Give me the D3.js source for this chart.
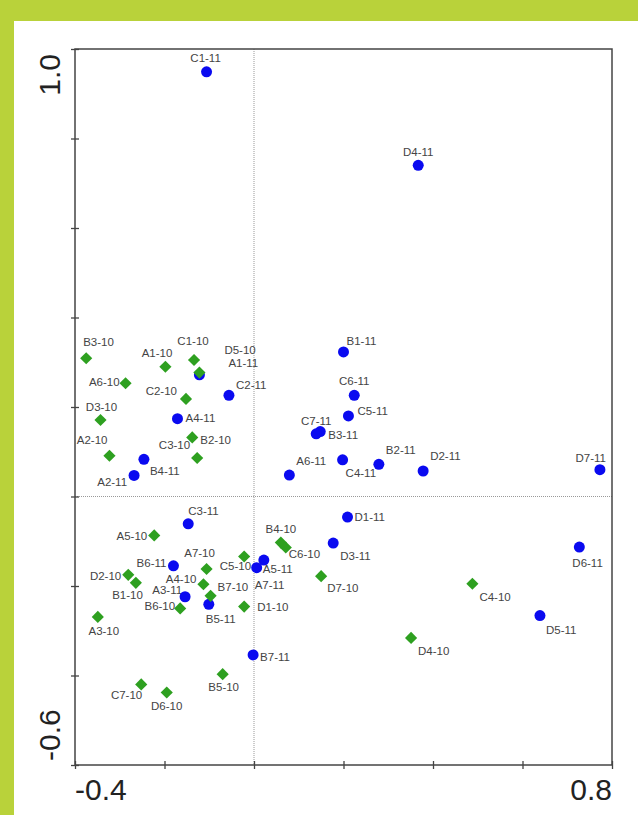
<!DOCTYPE html>
<html>
<head>
<meta charset="utf-8">
<style>
  html, body { margin: 0; padding: 0; background: #b9d23a; }
  svg { display: block; }
</style>
</head>
<body>
<script src="https://cdn.jsdelivr.net/npm/d3@7"></script>
<svg></svg>
<script>
  // sites, in the same order for both years
  const sites = ['A1', 'A2', 'A3', 'A4', 'A5', 'A6', 'A7',
                 'B1', 'B2', 'B3', 'B4', 'B5', 'B6', 'B7',
                 'C1', 'C2', 'C3', 'C4', 'C5', 'C6', 'C7',
                 'D1', 'D2', 'D3', 'D4', 'D5', 'D6', 'D7'];

  // 2010 scores (green diamonds)
  const x10 = [-0.198, -0.323, -0.349, -0.113, -0.223, -0.287, -0.106,
               -0.264, -0.138, -0.375,  0.060, -0.070, -0.165, -0.097,
               -0.134, -0.152, -0.127,  0.488, -0.022,  0.071, -0.252,
               -0.022, -0.281, -0.343,  0.351, -0.122, -0.195,  0.150];
  const y10 = [ 0.290,  0.091, -0.269, -0.196, -0.087,  0.253, -0.162,
               -0.193,  0.132,  0.309, -0.103, -0.397, -0.250, -0.222,
                0.305,  0.218,  0.086, -0.195, -0.134, -0.114, -0.420,
               -0.246, -0.175,  0.171, -0.316,  0.277, -0.438, -0.178];

  // 2011 scores (blue circles)
  const x11 = [-0.122, -0.268, -0.154, -0.171,  0.022,  0.079,  0.006,
                0.200,  0.279,  0.148, -0.246, -0.101, -0.180, -0.002,
               -0.106, -0.056, -0.147,  0.198,  0.211,  0.224,  0.139,
                0.209,  0.378,  0.177,  0.367,  0.639,  0.727,  0.773];
  const y11 = [ 0.272,  0.047, -0.224,  0.174, -0.142,  0.048, -0.159,
                0.323,  0.072,  0.145,  0.083, -0.241, -0.155, -0.354,
                0.949,  0.226, -0.061,  0.082,  0.180,  0.226,  0.140,
               -0.046,  0.057, -0.104,  0.740, -0.266, -0.113,  0.060];

  const xTicks = [-0.4, -0.2, 0, 0.2, 0.4, 0.6, 0.8];
  const yTicks = [-0.6, -0.4, -0.2, 0, 0.2, 0.4, 0.6, 0.8, 1.0];
  const xEnds = ['-0.4', '0.8'];
  const yEnds = ['-0.6', '1.0'];

  // hand placed labels: anchor, dx, dy from the mark centre
  const labelPos = {
    'C1-11': ['middle', -1, -10], 'D4-11': ['middle', 0, -9], 'B1-11': ['start', 3, -7],
    'C6-11': ['middle', 0, -10], 'C5-11': ['start', 9, -1], 'C7-11': ['middle', 0, -9],
    'B3-11': ['start', 8, 7], 'A6-11': ['start', 7, -10], 'C4-11': ['start', 3, 17],
    'B2-11': ['start', 7, -10], 'D2-11': ['start', 7, -11], 'D7-11': ['end', 6, -8],
    'D6-11': ['start', -7, 20], 'D5-11': ['start', 6, 18], 'C2-11': ['start', 7, -6],
    'A1-11': ['start', 29, -8], 'A4-11': ['start', 8, 3], 'B4-11': ['start', 6, 16],
    'A2-11': ['end', -7, 11], 'C3-11': ['start', 0, -9], 'B6-11': ['end', -7, 1],
    'A5-11': ['start', -1, 13], 'A7-11': ['start', -2, 21], 'A3-11': ['end', -3, -3],
    'B5-11': ['start', -3, 19], 'B7-11': ['start', 7, 6], 'D1-11': ['start', 7, 4],
    'D3-11': ['start', 7, 17],
    'B3-10': ['start', -3, -12], 'A1-10': ['end', 7, -10], 'C1-10': ['middle', -1, -15],
    'D5-10': ['start', 25, -19], 'A6-10': ['end', -6, 3], 'C2-10': ['end', -9, -4],
    'D3-10': ['middle', 1, -9], 'B2-10': ['start', 8, 7], 'C3-10': ['end', -7, -9],
    'A2-10': ['end', -2, -12], 'A5-10': ['end', -7, 5], 'A7-10': ['middle', -7, -12],
    'C5-10': ['end', 7, 14], 'D2-10': ['end', -7, 5], 'B1-10': ['end', 7, 16],
    'A4-10': ['end', -7, -1], 'B7-10': ['start', 7, -5], 'B6-10': ['end', -5, 2],
    'D1-10': ['start', 13, 4], 'A3-10': ['middle', 6, 18], 'B5-10': ['middle', 1, 17],
    'C7-10': ['end', 1, 15], 'D6-10': ['middle', 0, 17], 'B4-10': ['middle', 0, -10],
    'C6-10': ['start', 3, 10], 'D7-10': ['start', 6, 16], 'D4-10': ['start', 7, 17],
    'C4-10': ['start', 7, 17]
  };

  const width = 638;
  const height = 815;
  const plot = { left: 75, right: 612, top: 49, bottom: 765 };

  const svg = d3.select('svg').attr('width', width).attr('height', height);

  // white sheet over the green band
  svg.append('rect')
      .attr('x', 14).attr('y', 21)
      .attr('width', width - 14).attr('height', height - 21)
      .attr('fill', '#fff');

  const x = d3.scaleLinear().domain([-0.4, 0.8]).range([plot.left, plot.right]);
  const y = d3.scaleLinear().domain([-0.6, 1.0]).range([plot.bottom, plot.top]);

  // zero lines
  svg.append('line')
      .attr('x1', plot.left).attr('x2', plot.right)
      .attr('y1', y(0)).attr('y2', y(0))
      .attr('stroke', '#999').attr('stroke-width', 1).attr('stroke-dasharray', '1,1');
  svg.append('line')
      .attr('x1', x(0)).attr('x2', x(0))
      .attr('y1', plot.top).attr('y2', plot.bottom)
      .attr('stroke', '#999').attr('stroke-width', 1).attr('stroke-dasharray', '1,1');

  // frame
  svg.append('rect')
      .attr('x', plot.left).attr('y', plot.top)
      .attr('width', plot.right - plot.left).attr('height', plot.bottom - plot.top)
      .attr('fill', 'none').attr('stroke', '#444').attr('stroke-width', 1.5);

  // ticks crossing the bottom and left axes
  const xAxis = svg.append('g')
      .attr('transform', `translate(0,${plot.bottom - 4})`)
      .call(d3.axisBottom(x).tickValues(xTicks).tickSize(8).tickFormat(''));
  const yAxis = svg.append('g')
      .attr('transform', `translate(${plot.left + 4},0)`)
      .call(d3.axisLeft(y).tickValues(yTicks).tickSize(8).tickFormat(''));
  [xAxis, yAxis].forEach(a => {
      a.select('.domain').remove();
      a.selectAll('line').attr('stroke', '#444').attr('stroke-width', 1.3);
  });

  // end labels only
  const font = '"Liberation Sans", Arial, sans-serif';
  svg.selectAll('.xend')
    .data(xEnds)
    .join('text')
      .attr('x', (d, i) => i ? plot.right : plot.left)
      .attr('y', 800)
      .attr('text-anchor', (d, i) => i ? 'end' : 'start')
      .attr('font-family', font).attr('font-size', 30).attr('fill', '#222')
      .text(d => d);
  svg.selectAll('.yend')
    .data(yEnds)
    .join('text')
      .attr('transform', (d, i) => `translate(60,${i ? 54 : 761}) rotate(-90)`)
      .attr('text-anchor', (d, i) => i ? 'end' : 'start')
      .attr('font-family', font).attr('font-size', 30).attr('fill', '#222')
      .text(d => d);

  // point records from the arrays
  const pts10 = sites.map((s, i) => ({ name: `${s}-10`, x: x10[i], y: y10[i] }));
  const pts11 = sites.map((s, i) => ({ name: `${s}-11`, x: x11[i], y: y11[i] }));
  const all = pts11.concat(pts10);

  // labels under the marks
  svg.append('g')
    .selectAll('text')
    .data(all)
    .join('text')
      .attr('x', d => x(d.x) + labelPos[d.name][1])
      .attr('y', d => y(d.y) + labelPos[d.name][2])
      .attr('text-anchor', d => labelPos[d.name][0])
      .attr('font-family', font).attr('font-size', 11.5).attr('fill', '#444')
      .text(d => d.name);

  svg.append('g')
    .selectAll('circle')
    .data(pts11)
    .join('circle')
      .attr('cx', d => x(d.x))
      .attr('cy', d => y(d.y))
      .attr('r', 5.5)
      .attr('fill', '#0a0af0');

  const diamond = d3.symbol(d3.symbolSquare, 74);
  svg.append('g')
    .selectAll('path')
    .data(pts10)
    .join('path')
      .attr('transform', d => `translate(${x(d.x)},${y(d.y)}) rotate(45)`)
      .attr('d', diamond)
      .attr('fill', '#2ea020');
</script>
</body>
</html>
